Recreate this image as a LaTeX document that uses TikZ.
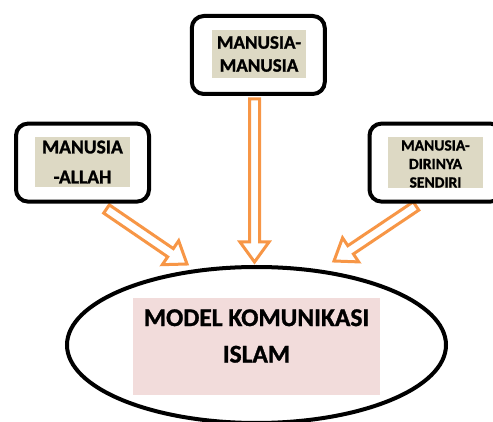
\documentclass[tikz,border=0pt]{standalone}
\usepackage{fontspec}
\setmainfont{Carlito}[BoldFont = {Carlito Bold}, BoldFeatures = {FakeBold = 1.2}]
\usetikzlibrary{shapes.geometric, calc}
\definecolor{arroworange}{HTML}{F79646}
\definecolor{tanfill}{HTML}{DDD9C4}
\definecolor{pinkfill}{HTML}{F2DCDB}
\newcommand{\hollowarrow}[2]{%
  \coordinate (hh) at ($(#2)!20pt!(#1)$);
  \draw [arrowline] ($(#1)!5pt!90:(#2)$) -- ($(hh)!5pt!90:(#2)$)
        -- ($(hh)!14.5pt!90:(#2)$) -- (#2) -- ($(hh)!14.5pt!-90:(#2)$)
        -- ($(hh)!5pt!-90:(#2)$) -- ($(#1)!5pt!-90:(#2)$) -- cycle;}
\begin{document}
\begin{tikzpicture}[x = 1pt, y = -1pt,
    arrowline/.style = {draw = arroworange, line width = 3pt, fill = white},
    outerbox/.style = {draw, fill = white, line width = 4pt, rounded corners = 12pt,
                       minimum width = 133pt, minimum height = 78pt},
    tanbox/.style = {fill = tanfill, font = \bfseries, align = center, inner sep = 0pt}]
  \useasboundingbox (0, 0) rectangle (493, 422);

  \node [ellipse, draw, line width = 4pt, minimum width = 379pt, minimum height = 156pt,
         inner sep = 0pt] (model) at (256.5, 345) {};
  \node [fill = pinkfill, minimum width = 247pt, minimum height = 97pt, inner sep = 0pt]
        (pinkbg) at (256.5, 346.5) {};
  \node [font = \bfseries\fontsize{25.5}{36.5}\selectfont, align = center, inner sep = 0pt]
        (title) at (256.5, 336) {MODEL KOMUNIKASI\\ISLAM};

  \coordinate (mm-tail) at (254.5, 99);
  \coordinate (mm-tip)  at (254.5, 262);
  \coordinate (ma-tail) at (106.5, 209);
  \coordinate (ma-tip)  at (187, 264);
  \coordinate (md-tail) at (416, 206);
  \coordinate (md-tip)  at (334, 261);
  \hollowarrow{mm-tail}{mm-tip}
  \hollowarrow{ma-tail}{ma-tip}
  \hollowarrow{md-tail}{md-tip}

  \node [outerbox] (mm) at (258.3, 55) {};
  \node [tanbox, minimum width = 94pt, minimum height = 48pt,
         font = \bfseries\fontsize{19}{23}\selectfont] (mmtext) at (259, 54)
        {MANUSIA-\\MANUSIA};

  \node [outerbox] (ma) at (82.5, 162.6) {};
  \node [tanbox, minimum width = 95pt, minimum height = 50pt,
         font = \bfseries\fontsize{19.5}{30}\selectfont] (matext) at (82.5, 162)
        {MANUSIA\\-ALLAH};

  \node [outerbox] (md) at (436, 162.6) {};
  \node [tanbox, minimum width = 95pt, minimum height = 51pt,
         path picture = {\node [font = \bfseries\fontsize{15.5}{18.5}\selectfont,
                                align = center, inner sep = 0pt]
                           at ([yshift = -1.5pt] path picture bounding box.center)
                           {MANUSIA-\\DIRINYA\\SENDIRI};}]
        (mdtext) at (435.5, 162.5) {};
\end{tikzpicture}
\end{document}
